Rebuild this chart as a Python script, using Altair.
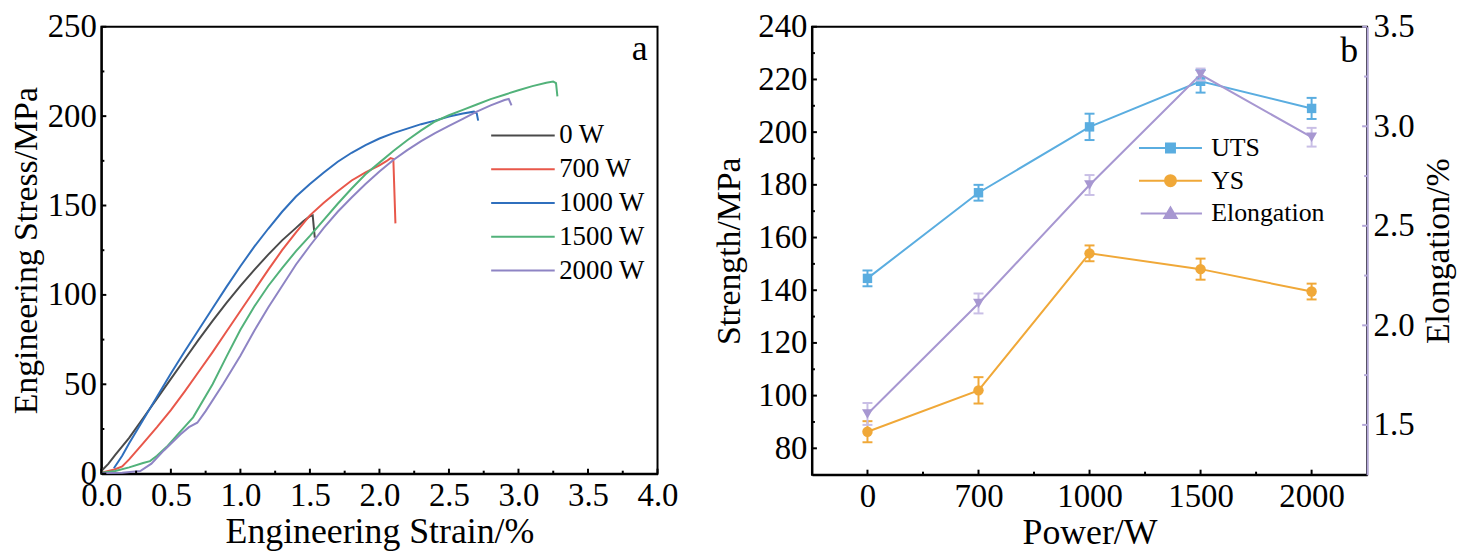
import json
import altair as alt
import pandas as pd

FONT = "Liberation Serif"

# ---------------- Panel a: stress-strain curves ----------------
series_a = ["0 W", "700 W", "1000 W", "1500 W", "2000 W"]
colors_a = ["#4a4a4a", "#e8574a", "#2f6fbd", "#52b27a", "#8e84c4"]

strain_0 = [0.0, 0.05, 0.1, 0.2, 0.3, 0.4, 0.5, 0.6, 0.7, 0.8, 0.9, 1.0, 1.1, 1.2, 1.3, 1.4, 1.45, 1.5, 1.52, 1.535]
stress_0 = [1.5, 5.5, 10.5, 20, 31, 42, 53, 64, 75, 85.5, 95.5, 105, 114, 122.5, 130.5, 137.5, 141, 144, 144.5, 132]

strain_700 = [0.0, 0.1, 0.15, 0.2, 0.3, 0.4, 0.5, 0.6, 0.7, 0.8, 0.9, 1.0, 1.1, 1.2, 1.3, 1.4, 1.5, 1.6, 1.7, 1.8, 1.9, 2.0, 2.05, 2.08, 2.1, 2.115]
stress_700 = [0.5, 2.5, 4, 8, 17, 26, 35.5, 46, 57, 68, 79.5, 91, 102.5, 114, 125, 135, 144.5, 151.5, 158, 164, 168.5, 172.5, 174.8, 176.5, 176, 140]

strain_1000 = [0.09, 0.15, 0.2, 0.3, 0.4, 0.5, 0.6, 0.7, 0.8, 0.9, 1.0, 1.1, 1.2, 1.3, 1.4, 1.5, 1.6, 1.7, 1.8, 1.9, 2.0, 2.1, 2.2, 2.3, 2.4, 2.5, 2.6, 2.68, 2.7, 2.71]
stress_1000 = [3, 10, 17, 30, 43, 56, 68.5, 80.5, 92.5, 104.5, 116, 127, 137, 146.5, 155, 162, 168.5, 174.5, 179.5, 183.8, 187.5, 190.5, 193, 195.5, 197.5, 199.8, 201.5, 202.5, 201.5, 197.5]

strain_1500 = [0.0, 0.1, 0.2, 0.3, 0.35, 0.4, 0.47, 0.55, 0.66, 0.8, 0.9, 1.0, 1.1, 1.2, 1.3, 1.4, 1.5, 1.6, 1.7, 1.8, 1.9, 2.0, 2.1, 2.2, 2.3, 2.4, 2.5, 2.6, 2.7, 2.8, 2.9, 3.0, 3.1, 3.2, 3.25, 3.27, 3.28]
stress_1500 = [0.5, 1.5, 3.5, 6, 7, 10, 15, 22, 31.5, 50, 65.5, 80.5, 93.5, 105, 115, 124.5, 133, 142, 151, 159.5, 167.5, 174, 180.5, 186.5, 192, 197, 200.5, 203.5, 206.5, 209.5, 212, 214.5, 216.8, 218.7, 219.3, 218.5, 211]

strain_2000 = [0.0, 0.15, 0.28, 0.36, 0.45, 0.57, 0.63, 0.69, 0.75, 0.875, 1.0, 1.1, 1.2, 1.3, 1.4, 1.5, 1.6, 1.7, 1.8, 1.9, 2.0, 2.1, 2.2, 2.3, 2.4, 2.5, 2.6, 2.7, 2.8, 2.9, 2.93, 2.95]
stress_2000 = [0.3, 0.5, 1.5, 5.6, 13, 22, 26, 28.5, 35, 50, 66, 80, 93, 105, 117, 127.5, 137.5, 146.5, 154.5, 162, 169, 175.5, 181, 186, 190.5, 194.5, 198.5, 202.5, 206, 209, 209.6, 206]

a_x_major = [0.0, 0.5, 1.0, 1.5, 2.0, 2.5, 3.0, 3.5, 4.0]
a_x_minor = [0.25, 0.75, 1.25, 1.75, 2.25, 2.75, 3.25, 3.75]
a_y_major = [0, 50, 100, 150, 200, 250]
a_y_minor = [25, 75, 125, 175, 225]

# ---------------- Panel b: properties vs power ----------------
powers = ["0", "700", "1000", "1500", "2000"]
uts = [144.5, 177, 202, 219.3, 209]
uts_err = [3, 3, 5, 4.3, 4]
ys = [86.3, 102, 154, 148, 139.5]
ys_err = [4, 5, 3, 4, 3]
elong = [1.555, 2.11, 2.705, 3.26, 2.945]
elong_err = [0.055, 0.05, 0.05, 0.03, 0.047]

series_b = ["UTS", "YS", "Elongation"]
colors_b = ["#5aade0", "#f0a838", "#a797d1"]
elong_err_color = "#c9bfe6"
lav_axis = "#b3a7d8"

b_x_major = [0, 1, 2, 3, 4]
b_x_minor = [0.5, 1.5, 2.5, 3.5]
b_y_major = [80, 100, 120, 140, 160, 180, 200, 220, 240]
b_y_minor = [90, 110, 130, 150, 170, 190, 210, 230]
b_y2_major = [1.5, 2.0, 2.5, 3.0, 3.5]
b_y2_minor = [1.75, 2.25, 2.75, 3.25]

legend_paths = [
    "M-3.17,0H3.17M-0.45,-0.45H0.45V0.45H-0.45Z",
    "M-3.17,0H3.17M-0.55,0A0.55,0.55 0 1,1 0.55,0A0.55,0.55 0 1,1 -0.55,0Z",
    "M-3.0,0H3.17M0,-0.6L0.62,0.45H-0.62Z",
]

# ---------------- build tables ----------------
curves = {
    "0 W": (strain_0, stress_0),
    "700 W": (strain_700, stress_700),
    "1000 W": (strain_1000, stress_1000),
    "1500 W": (strain_1500, stress_1500),
    "2000 W": (strain_2000, stress_2000),
}
rows = []
for name in series_a:
    sx, sy = curves[name]
    for i, (a, b) in enumerate(zip(sx, sy)):
        rows.append({"series": name, "strain": a, "stress": b, "i": i})
df_a = pd.DataFrame(rows)

W_A, H_A = 560, 450
W_B, H_B = 559, 451
GAP = 155.5

xs_a = alt.Scale(domain=[0, 4], nice=False, zero=False)
ys_a = alt.Scale(domain=[0, 250], nice=False, zero=False)
ax_a_x = alt.Axis(title="Engineering Strain/%", values=a_x_major, format=".1f", labelFlush=False,
                  labelPadding=6, titlePadding=2, titleFontSize=36)
ax_a_y = alt.Axis(title="Engineering Stress/MPa", values=a_y_major, labelFlush=False,
                  labelPadding=5, titlePadding=4, titleFontSize=34)

lines_a = alt.Chart(df_a).mark_line(strokeWidth=2).encode(
    x=alt.X("strain:Q", scale=xs_a, axis=ax_a_x),
    y=alt.Y("stress:Q", scale=ys_a, axis=ax_a_y),
    color=alt.Color("series:N", scale=alt.Scale(domain=series_a, range=colors_a),
                    legend=alt.Legend(title=None, orient="none", legendX=411, legendY=96,
                                      symbolType="M-3.2,0H3.2", symbolSize=400,
                                      symbolStrokeWidth=2, labelFont=FONT, labelFontSize=27,
                                      labelOffset=23, rowPadding=6, padding=0,
                                      labelColor="black")),
    order=alt.Order("i:Q"),
)


def xticks(values, scale, axis, length, height, color="black"):
    return alt.Chart(pd.DataFrame({"t": values})).mark_rule(strokeWidth=2, color=color).encode(
        x=alt.X("t:Q", scale=scale, axis=axis),
        y=alt.value(height), y2=alt.value(height - length))


def yticks(values, scale, axis, length, x0=0, side=1, color="black"):
    return alt.Chart(pd.DataFrame({"t": values})).mark_rule(strokeWidth=2, color=color).encode(
        y=alt.Y("t:Q", scale=scale, axis=axis),
        x=alt.value(x0), x2=alt.value(x0 + side * length))


label_a = alt.Chart(pd.DataFrame({"t": ["a"]})).mark_text(
    font=FONT, fontSize=36, color="black", baseline="middle", align="center").encode(
    x=alt.value(W_A - 18), y=alt.value(22), text="t:N")

panel_a = alt.layer(
    lines_a,
    xticks(a_x_major, xs_a, ax_a_x, 5, H_A), xticks(a_x_minor, xs_a, ax_a_x, 3, H_A),
    yticks(a_y_major, ys_a, ax_a_y, 5), yticks(a_y_minor, ys_a, ax_a_y, 3),
    label_a,
).properties(width=W_A, height=H_A)

# panel b tables
idx = list(range(len(powers)))
df_s = pd.DataFrame(
    [{"series": "UTS", "idx": k, "value": v, "lo": v - e, "hi": v + e} for k, v, e in zip(idx, uts, uts_err)]
    + [{"series": "YS", "idx": k, "value": v, "lo": v - e, "hi": v + e} for k, v, e in zip(idx, ys, ys_err)]
)
df_s_caps = pd.concat([
    df_s[["series", "idx", "lo"]].rename(columns={"lo": "cap"}),
    df_s[["series", "idx", "hi"]].rename(columns={"hi": "cap"}),
])
df_e = pd.DataFrame([{"series": "Elongation", "idx": k, "elong": v, "lo": v - e, "hi": v + e}
                     for k, v, e in zip(idx, elong, elong_err)])
df_e_caps = pd.concat([
    df_e[["series", "idx", "lo"]].rename(columns={"lo": "cap"}),
    df_e[["series", "idx", "hi"]].rename(columns={"hi": "cap"}),
])
df_leg = pd.DataFrame({"series": series_b, "idx": [0, 0, 0], "value": [uts[0]] * 3})

xs_b = alt.Scale(domain=[-0.5, 4.5], nice=False, zero=False)
ys_b = alt.Scale(domain=[70, 240], nice=False, zero=False)
ys_b2 = alt.Scale(domain=[1.25, 3.5], nice=False, zero=False)
cscale_b = alt.Scale(domain=series_b, range=colors_b)

ax_b_x = alt.Axis(title="Power/W", values=b_x_major, labelExpr=json.dumps(powers) + "[datum.value]",
                  labelFlush=False, labelPadding=6, titlePadding=2, titleFontSize=36)
ax_b_y = alt.Axis(title="Strength/MPa", values=b_y_major, labelFlush=False,
                  labelPadding=5, titlePadding=11, titleFontSize=34)
ax_b_y2 = alt.Axis(orient="right", title="Elongation/%", values=b_y2_major, format=".1f",
                   labelFlush=False, domainColor=lav_axis, labelPadding=6, titlePadding=8,
                   titleFontSize=34, titleAngle=270, titleBaseline="top")

X_B = alt.X("idx:Q", scale=xs_b, axis=ax_b_x)
col_b = alt.Color("series:N", scale=cscale_b, legend=None)

base_s = alt.Chart(df_s)
s_lines = base_s.mark_line(strokeWidth=2).encode(
    x=X_B, y=alt.Y("value:Q", scale=ys_b, axis=ax_b_y), color=col_b)
s_err = base_s.mark_rule(strokeWidth=2).encode(
    x=X_B, y=alt.Y("lo:Q", scale=ys_b, axis=ax_b_y), y2="hi:Q", color=col_b)
s_caps = alt.Chart(df_s_caps).mark_tick(orient="horizontal", size=10, thickness=2, opacity=1).encode(
    x=X_B, y=alt.Y("cap:Q", scale=ys_b, axis=ax_b_y), color=col_b)
s_pts_uts = base_s.transform_filter(alt.datum.series == "UTS").mark_point(
    filled=True, shape="square", size=90, opacity=1).encode(
    x=X_B, y=alt.Y("value:Q", scale=ys_b, axis=ax_b_y), color=col_b)
s_pts_ys = base_s.transform_filter(alt.datum.series == "YS").mark_point(
    filled=True, shape="circle", size=110, opacity=1).encode(
    x=X_B, y=alt.Y("value:Q", scale=ys_b, axis=ax_b_y), color=col_b)

leg_b = alt.Legend(title=None, orient="none", legendX=348 + W_A + GAP, legendY=109, symbolSize=400,
                   symbolStrokeWidth=2, symbolOpacity=1, labelFont=FONT, labelFontSize=26,
                   labelOffset=28, rowPadding=7, padding=0, labelColor="black")
s_legend = alt.Chart(df_leg).mark_point(filled=True, opacity=0).encode(
    x=X_B, y=alt.Y("value:Q", scale=ys_b, axis=ax_b_y),
    fill=alt.Fill("series:N", scale=alt.Scale(domain=series_b, range=colors_b), legend=leg_b),
    stroke=alt.Stroke("series:N", scale=alt.Scale(domain=series_b, range=colors_b), legend=leg_b),
    shape=alt.Shape("series:N", scale=alt.Scale(domain=series_b, range=legend_paths), legend=leg_b),
)

label_b = alt.Chart(pd.DataFrame({"t": ["b"]})).mark_text(
    font=FONT, fontSize=36, color="black", baseline="middle", align="center").encode(
    x=alt.value(W_B - 18), y=alt.value(24), text="t:N")

strength = alt.layer(
    s_lines, s_err, s_caps, s_pts_uts, s_pts_ys, s_legend,
    xticks(b_x_major, xs_b, ax_b_x, 5, H_B), xticks(b_x_minor, xs_b, ax_b_x, 3, H_B),
    yticks(b_y_major, ys_b, ax_b_y, 5), yticks(b_y_minor, ys_b, ax_b_y, 3),
    label_b,
)

base_e = alt.Chart(df_e)
e_line = base_e.mark_line(strokeWidth=2).encode(
    x=X_B, y=alt.Y("elong:Q", scale=ys_b2, axis=ax_b_y2), color=col_b)
e_err = base_e.mark_rule(strokeWidth=2, color=elong_err_color).encode(
    x=X_B, y=alt.Y("lo:Q", scale=ys_b2, axis=ax_b_y2), y2="hi:Q")
e_caps = alt.Chart(df_e_caps).mark_tick(orient="horizontal", size=10, thickness=2, opacity=1,
                                        color=elong_err_color).encode(
    x=X_B, y=alt.Y("cap:Q", scale=ys_b2, axis=ax_b_y2))
e_pts = base_e.mark_point(filled=True, shape="triangle-down", size=120, opacity=1).encode(
    x=X_B, y=alt.Y("elong:Q", scale=ys_b2, axis=ax_b_y2), color=col_b)

elong_layer = alt.layer(
    e_line, e_err, e_caps, e_pts,
    yticks(b_y2_major, ys_b2, ax_b_y2, 5, x0=W_B, side=-1, color=lav_axis),
    yticks(b_y2_minor, ys_b2, ax_b_y2, 3, x0=W_B, side=-1, color=lav_axis),
)

panel_b = alt.layer(strength, elong_layer).resolve_scale(y="independent").properties(width=W_B, height=H_B)

chart = alt.hconcat(panel_a, panel_b, spacing=GAP, bounds="flush").resolve_scale(
    color="independent"
).resolve_legend(
    color="independent"
).properties(
    padding={"left": 0, "top": 0, "right": 0, "bottom": 0}
).configure(
    font=FONT
).configure_view(
    stroke="black", strokeWidth=2
).configure_axis(
    labelFont=FONT, titleFont=FONT, labelFontSize=33, titleFontWeight="normal",
    labelColor="black", titleColor="black", domainColor="black", domainWidth=2,
    ticks=False, grid=False,
)

chart.save("out.html", embed_options={"renderer": "svg", "actions": False})
